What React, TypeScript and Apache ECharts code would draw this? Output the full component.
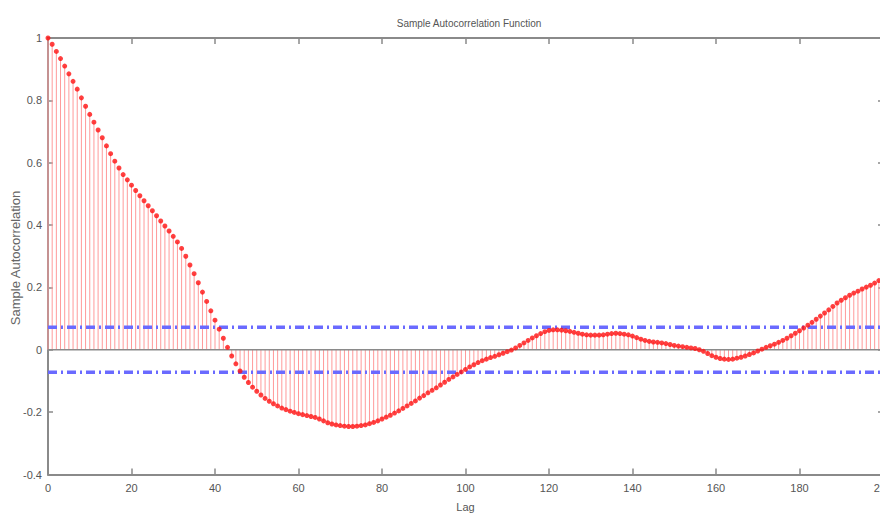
import React, { useEffect, useRef } from "react";
import * as echarts from "echarts";

const lags: number[] = Array.from({ length: 201 }, (_, i) => i);

const acf: number[] = [
  1.0, 0.98, 0.957, 0.934, 0.91, 0.885, 0.861, 0.836, 0.808, 0.781,
  0.755, 0.73, 0.705, 0.68, 0.654, 0.629, 0.605, 0.583, 0.562, 0.545,
  0.528, 0.511, 0.494, 0.478, 0.462, 0.446, 0.43, 0.413, 0.397, 0.381,
  0.364, 0.346, 0.325, 0.3, 0.272, 0.244, 0.215, 0.185, 0.155, 0.125,
  0.095, 0.066, 0.037, 0.008, -0.02, -0.045, -0.068, -0.088, -0.105, -0.12,
  -0.133, -0.145, -0.156, -0.165, -0.173, -0.18, -0.187, -0.192, -0.197, -0.201,
  -0.205, -0.208, -0.211, -0.214, -0.217, -0.222, -0.228, -0.234, -0.238, -0.241,
  -0.243, -0.245, -0.246, -0.246, -0.245, -0.243, -0.241, -0.237, -0.233, -0.228,
  -0.222, -0.216, -0.21, -0.203, -0.196, -0.188, -0.18, -0.172, -0.164, -0.155,
  -0.147, -0.138, -0.13, -0.122, -0.113, -0.104, -0.095, -0.087, -0.079, -0.071,
  -0.063, -0.055, -0.048, -0.041, -0.035, -0.03, -0.025, -0.021, -0.016, -0.011,
  -0.006, -0.001, 0.006, 0.014, 0.022, 0.03, 0.038, 0.045, 0.052, 0.058,
  0.062, 0.064, 0.064, 0.063, 0.061, 0.059, 0.056, 0.053, 0.05, 0.048,
  0.047, 0.047, 0.047, 0.048, 0.05, 0.052, 0.053, 0.052, 0.05, 0.048,
  0.044, 0.039, 0.034, 0.03, 0.027, 0.025, 0.024, 0.022, 0.02, 0.017,
  0.014, 0.012, 0.01, 0.008, 0.006, 0.004, 0.0, -0.005, -0.012, -0.019,
  -0.024, -0.028, -0.03, -0.031, -0.03, -0.027, -0.024, -0.02, -0.015, -0.01,
  -0.004, 0.002, 0.008, 0.013, 0.018, 0.024, 0.03, 0.037, 0.045, 0.053,
  0.061, 0.07, 0.079, 0.088, 0.098, 0.108, 0.118, 0.128, 0.139, 0.15,
  0.159, 0.167, 0.175, 0.182, 0.188, 0.195, 0.201, 0.207, 0.214, 0.222,
  0.23,
];

const confBound = 0.072;
const xTicks = { min: 0, max: 200, interval: 20 };
const yTicks = { min: -0.4, max: 1, interval: 0.2 };
const yAxisTitle = "Sample Autocorrelation";

export default function App() {
  const ref = useRef<HTMLDivElement>(null);
  useEffect(() => {
    if (!ref.current) return;
    const chart = echarts.init(ref.current, undefined, { renderer: "svg" });
    const pts = lags.map((l, i) => [l, acf[i]]);
    const axisColor = "#8a8a8a";
    const font = "Liberation Sans, Arial, sans-serif";
    const labelStyle = { color: "#555", fontSize: 11, fontFamily: font };
    chart.setOption({
      animation: false,
      backgroundColor: "#fff",
      title: {
        text: "Sample Autocorrelation Function",
        left: 464,
        top: 13,
        textAlign: "center",
        textStyle: { fontSize: 10, fontWeight: "normal", color: "#555", fontFamily: font },
      },
      graphic: [
        {
          type: "text",
          x: 15,
          y: 258,
          rotation: Math.PI / 2,
          style: {
            text: yAxisTitle,
            fill: "#666",
            font: `13px ${font}`,
            align: "center",
            verticalAlign: "middle",
          },
        },
      ],
      grid: { left: 48, right: 7, top: 38, bottom: 38.5, show: false, outerBoundsMode: "none", containLabel: false },
      xAxis: [
        {
          type: "value",
          ...xTicks,
          name: "Lag",
          nameLocation: "middle",
          nameGap: 27,
          nameTextStyle: { color: "#555", fontSize: 11, fontFamily: font },
          axisLine: { show: true, onZero: false, lineStyle: { color: axisColor, width: 2 } },
          axisTick: { show: true, inside: true, length: 6, lineStyle: { color: axisColor, width: 1.5 } },
          axisLabel: { ...labelStyle, margin: 8 },
          splitLine: { show: false },
        },
        {
          type: "value",
          position: "top",
          ...xTicks,
          axisLine: { show: true, onZero: false, lineStyle: { color: axisColor, width: 2 } },
          axisTick: { show: true, inside: true, length: 6, lineStyle: { color: axisColor, width: 1.5 } },
          axisLabel: { show: false },
          splitLine: { show: false },
        },
      ],
      yAxis: [
        {
          type: "value",
          ...yTicks,
          axisLine: { show: true, onZero: false, lineStyle: { color: axisColor, width: 2 } },
          axisTick: { show: true, inside: true, length: 5, lineStyle: { color: axisColor, width: 1.5 } },
          axisLabel: {
            ...labelStyle,
            margin: 6,
            formatter: (v: number) => String(Math.round(v * 10) / 10),
          },
          splitLine: { show: false },
        },
        {
          type: "value",
          position: "right",
          ...yTicks,
          axisLine: { show: true, onZero: false, lineStyle: { color: axisColor, width: 2 } },
          axisTick: { show: true, inside: true, length: 5, lineStyle: { color: axisColor, width: 1.5 } },
          axisLabel: { show: false },
          splitLine: { show: false },
        },
      ],
      series: [
        {
          type: "custom",
          data: pts,
          encode: { x: 0, y: 1 },
          renderItem: (params: any, api: any) => {
            const top = api.coord([api.value(0), api.value(1)]);
            const base = api.coord([api.value(0), 0]);
            return {
              type: "line",
              shape: { x1: top[0], y1: top[1], x2: base[0], y2: base[1] },
              style: { stroke: "#ff9a9a", lineWidth: 1 },
            };
          },
          z: 2,
        },
        {
          type: "line",
          data: [
            [0, 0],
            [200, 0],
          ],
          showSymbol: false,
          lineStyle: { color: "#8a8a8a", width: 1.5 },
          z: 2,
        },
        {
          type: "line",
          data: [
            [0, confBound],
            [200, confBound],
          ],
          showSymbol: false,
          lineStyle: { color: "#6a6aff", width: 3.5, type: [9, 4, 2, 4] },
          z: 3,
        },
        {
          type: "line",
          data: [
            [0, -confBound],
            [200, -confBound],
          ],
          showSymbol: false,
          lineStyle: { color: "#6a6aff", width: 3.5, type: [9, 4, 2, 4] },
          z: 3,
        },
        {
          type: "scatter",
          data: pts,
          symbol: "circle",
          symbolSize: 5,
          itemStyle: { color: "#ff1010" },
          z: 4,
        },
      ],
    });
    return () => chart.dispose();
  }, []);
  return (
    <div
      ref={ref}
      style={{ position: "fixed", left: 0, top: 0, width: 890, height: 513 }}
    />
  );
}
